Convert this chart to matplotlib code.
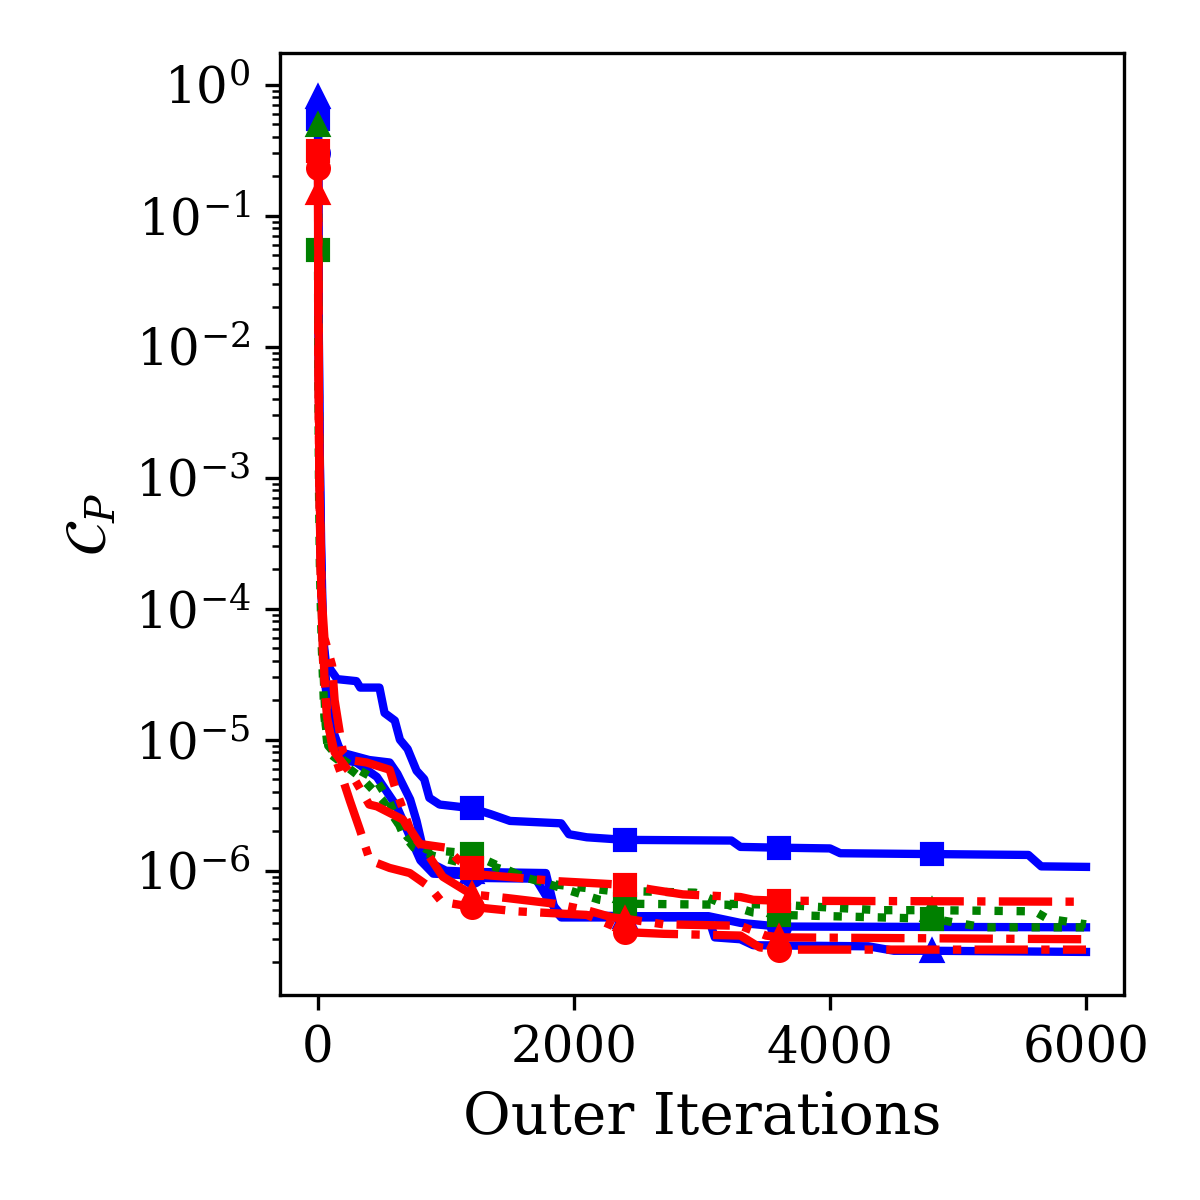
import matplotlib
matplotlib.use("Agg")
import matplotlib.pyplot as plt
import numpy as np

plt.rcParams['font.family'] = 'serif'
plt.rcParams['mathtext.fontset'] = 'dejavuserif'

# marker positions (every 1200 outer iterations)
mark_x = [0, 1200, 2400, 3600, 4800]

# blue, solid
b_sq_x = [0, 5, 12, 25, 40, 60, 100, 150, 300, 330, 480, 520, 600, 640, 700, 770, 830, 870, 950,
          1200, 1350, 1500, 1900, 1960, 2100, 2400, 3230, 3300, 3600, 4000, 4080, 4800, 5550, 5650, 6000]
b_sq_y = [0.55, 2e-2, 2e-3, 3e-4, 6e-5, 4e-5, 3.4e-5, 2.9e-5, 2.8e-5, 2.5e-5, 2.5e-5, 1.6e-5, 1.4e-5,
          1.0e-5, 8.5e-6, 5.8e-6, 5.0e-6, 3.6e-6, 3.2e-6, 3.0e-6, 2.7e-6, 2.4e-6, 2.3e-6, 1.9e-6,
          1.8e-6, 1.72e-6, 1.7e-6, 1.52e-6, 1.5e-6, 1.48e-6, 1.36e-6, 1.34e-6, 1.32e-6, 1.08e-6, 1.07e-6]

b_tri_x = [0, 4, 10, 20, 35, 60, 100, 150, 200, 400, 560, 620, 720, 770, 800, 840, 1000, 1200,
           1780, 1850, 1900, 2400, 3050, 3100, 3300, 3400, 4300, 4500, 4800, 6000]
b_tri_y = [0.8, 3e-2, 3e-3, 4e-4, 8e-5, 2.5e-5, 1.2e-5, 9e-6, 7.9e-6, 7e-6, 6.7e-6, 5.5e-6, 3.5e-6,
           2.4e-6, 1.8e-6, 1.2e-6, 1.0e-6, 9.8e-7, 9.6e-7, 5e-7, 4.4e-7, 4.4e-7, 4.4e-7, 3.1e-7,
           3.0e-7, 2.7e-7, 2.65e-7, 2.45e-7, 2.45e-7, 2.4e-7]

b_ci_x = [0, 4, 10, 20, 35, 60, 100, 200, 300, 460, 615, 700, 800, 900, 1200, 1300, 1700, 1800,
          1900, 2400, 3050, 3300, 3600, 6000]
b_ci_y = [0.3, 2e-2, 2e-3, 3e-4, 7e-5, 3e-5, 1.3e-5, 7e-6, 6.7e-6, 5.2e-6, 3.1e-6, 2e-6, 1.2e-6,
          9.5e-7, 9.2e-7, 8.8e-7, 8.7e-7, 6e-7, 4.6e-7, 4.5e-7, 4.5e-7, 4.0e-7, 3.75e-7, 3.7e-7]

# green, dotted
g_tri_x = [0, 3, 8, 15, 25, 40, 60, 80, 150, 300, 450, 550, 665, 750, 900, 1200, 1365, 1785, 2300,
           2400, 2950, 3160, 3600, 4380, 4800, 5600, 5700, 6000]
g_tri_y = [0.49, 3e-2, 3e-3, 5e-4, 1.5e-4, 4e-5, 1.3e-5, 9e-6, 7.5e-6, 6e-6, 5e-6, 3.5e-6, 1.9e-6,
           1.5e-6, 1.3e-6, 1.1e-6, 1.08e-6, 8e-7, 7e-7, 7e-7, 6.8e-7, 5.6e-7, 5.5e-7, 5.0e-7, 5.0e-7,
           4.9e-7, 4.3e-7, 3.9e-7]

g_sq_x = [0, 3, 8, 15, 30, 50, 80, 200, 350, 500, 600, 700, 850, 1200, 1400, 1600, 1785, 2200,
          2400, 3200, 3400, 3600, 4400, 4800, 5200, 6000]
g_sq_y = [0.055, 5e-3, 8e-4, 2e-4, 5e-5, 1.5e-5, 8e-6, 6.5e-6, 5e-6, 3.5e-6, 2.5e-6, 1.8e-6, 1.45e-6,
          1.35e-6, 1.1e-6, 9e-7, 8e-7, 6e-7, 5.6e-7, 5.5e-7, 4.8e-7, 4.6e-7, 4.4e-7, 4.3e-7, 3.7e-7,
          3.7e-7]

# red, dash-dot
r_sq_x = [0, 3, 8, 15, 30, 50, 110, 130, 195, 250, 380, 560, 600, 717, 795, 1000, 1100, 1200, 1290,
          1890, 2400, 2600, 2850, 3300, 3400, 3600, 6000]
r_sq_y = [0.31, 3e-2, 3e-3, 6e-4, 1.2e-4, 6e-5, 3.7e-5, 2e-5, 8e-6, 7e-6, 6.7e-6, 5.9e-6, 4.4e-6,
          2.1e-6, 1.6e-6, 1.5e-6, 1.2e-6, 1.05e-6, 9.3e-7, 8.3e-7, 7.8e-7, 7.2e-7, 6.6e-7, 6.3e-7,
          6.0e-7, 5.9e-7, 5.8e-7]

r_tri_x = [0, 3, 10, 25, 50, 80, 130, 200, 275, 400, 460, 665, 717, 850, 975, 1200, 1470, 1850, 2100,
           2300, 2400, 2700, 3300, 3500, 3600, 6000]
r_tri_y = [0.15, 1e-2, 1e-3, 1.5e-4, 3e-5, 1.3e-5, 8e-6, 6.5e-6, 5.2e-6, 3.2e-6, 3.1e-6, 2.45e-6,
           2.0e-6, 1.37e-6, 9e-7, 6.6e-7, 6.2e-7, 5.6e-7, 5.0e-7, 4.4e-7, 4.3e-7, 3.9e-7, 3.8e-7,
           3.2e-7, 3.1e-7, 3.0e-7]

r_ci_x = [0, 3, 8, 20, 40, 70, 120, 180, 250, 327, 405, 560, 717, 873, 966, 1200, 1550, 2100, 2300,
          2400, 2700, 3300, 3450, 3600, 6000]
r_ci_y = [0.23, 2e-2, 2e-3, 2e-4, 4e-5, 1.5e-5, 8e-6, 5.5e-6, 3.4e-6, 2.06e-6, 1.2e-6, 1.05e-6,
          9.6e-7, 7.5e-7, 5.8e-7, 5.3e-7, 4.9e-7, 4.6e-7, 3.8e-7, 3.4e-7, 3.3e-7, 3.2e-7, 2.6e-7,
          2.5e-7, 2.5e-7]

runs = [
    (b_sq_x, b_sq_y, 'blue', '-', 's'),
    (b_tri_x, b_tri_y, 'blue', '-', '^'),
    (b_ci_x, b_ci_y, 'blue', '-', 'o'),
    (g_tri_x, g_tri_y, 'green', ':', '^'),
    (g_sq_x, g_sq_y, 'green', ':', 's'),
    (r_sq_x, r_sq_y, 'red', '-.', 's'),
    (r_tri_x, r_tri_y, 'red', '-.', '^'),
    (r_ci_x, r_ci_y, 'red', '-.', 'o'),
]

fig = plt.figure(figsize=(4, 4), dpi=300)
ax = fig.add_axes([0.233, 0.171, 0.704, 0.785])

for xs, ys, c, ls, mk in runs:
    idx = [i for i, v in enumerate(xs) if v in mark_x]
    ax.plot(xs, ys, color=c, linestyle=ls, linewidth=2, marker=mk,
            markersize=5, markevery=idx)

ax.set_yscale('log')
ax.set_xlim(-300, 6300)
ax.set_ylim(1.13e-7, 1.75)
ax.set_xticks([0, 2000, 4000, 6000])
ax.tick_params(labelsize=12)
ax.set_xlabel('Outer Iterations', fontsize=14)
ax.set_ylabel(r'$\mathcal{C}_P$', fontsize=14)

fig.savefig('out.png', dpi=300)
